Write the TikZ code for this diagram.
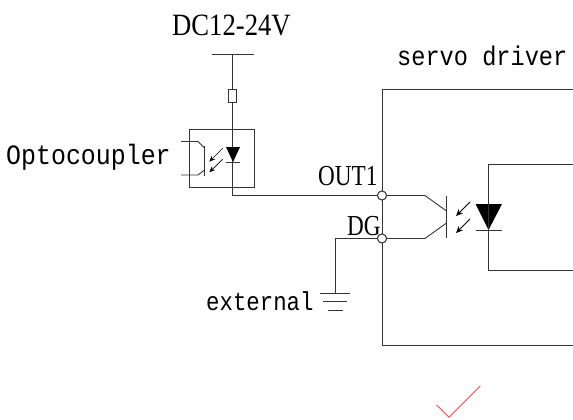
\documentclass[tikz,border=0pt]{standalone}
\usepackage{fontspec}
\setmainfont{Liberation Serif}
\newfontfamily\serA[FakeStretch=0.86]{Liberation Serif}
\newfontfamily\serB[FakeStretch=0.80]{Liberation Serif}
\newfontfamily\sanA[FakeStretch=0.89]{Liberation Mono}
\newfontfamily\sanB[FakeStretch=0.875]{Liberation Mono}
\newfontfamily\sanC[FakeStretch=0.86]{Liberation Mono}
\usetikzlibrary{arrows.meta}
\definecolor{ink}{HTML}{333333}
\definecolor{tickred}{HTML}{FF4444}
\tikzset{
  wire/.style={draw=ink,line width=1pt},
  thinwire/.style={draw=ink,line width=0.9pt},
  ray/.style={draw=black,line width=0.8pt,-{Stealth[length=7pt,width=6pt]}},
  raysmall/.style={draw=black,line width=0.7pt,-{Stealth[length=6pt,width=5pt]}},
  term/.style={circle,draw=ink,fill=white,line width=0.9pt,minimum size=9pt,inner sep=0pt},
  serifl/.style={anchor=base west,inner sep=0pt,text=black},
  sansl/.style={anchor=base west,inner sep=0pt,text=black},
  fuse/.style={rectangle,draw=ink,fill=white,line width=0.9pt,minimum width=8.5pt,minimum height=13pt,inner sep=0pt},
}
\begin{document}
\begin{tikzpicture}[x=1pt,y=-1pt]
\useasboundingbox (0,0) rectangle (573,420);
% free ends
\coordinate (supL) at (212,55);
\coordinate (supR) at (254,55);
\coordinate (supM) at (232.5,55);
\coordinate (corner) at (232.5,195.5);
\coordinate (boxTR) at (573,89);
\coordinate (boxTL) at (382,89);
\coordinate (boxBL) at (382,345);
\coordinate (boxBR) at (573,345);
\coordinate (gndTop) at (335,238.5);
\coordinate (gnd1) at (335,293.5);
\node[term] (out1) at (382,195.5) {};
\node[term] (dg) at (382,238.5) {};
\node[fuse] (fuse1) at (232.5,95.5) {};
% driver box
\draw[wire] (boxTR) -- (boxTL) -- (boxBL) -- (boxBR);
\node[term] at (out1) {};
\node[term] at (dg) {};
% external wiring
\draw[wire] (supL) -- (supR);
\draw[wire] (supM) -- (fuse1) (fuse1) -- (corner) -- (out1);
\node[fuse] at (fuse1) {};
\draw[wire] (dg) -- (gndTop) -- (gnd1);
\draw[wire] (320,293.5) -- (350,293.5);
\draw[wire] (323,301.7) -- (347,301.7);
\draw[wire] (328,310.7) -- (343,310.7);
% small optocoupler
\draw[wire] (189.5,129) rectangle (254,187);
\fill[black] (226,147) -- (240,147) -- (233,162) -- cycle;
\draw[thinwire] (225.5,162) -- (240,162);
\draw[thinwire] (204.5,146) -- (204.5,176);
\draw[thinwire] (181,141.5) -- (198,141.5) -- (204.5,148);
\draw[thinwire] (181,175) -- (198,175) -- (204.5,170);
\draw[raysmall] (222.7,148.3) -- (209.3,161.7);
\draw[raysmall] (222.7,159.3) -- (209.3,172.3);
% main optocoupler
\draw[thinwire] (out1) -- (425,195.5) -- (446.5,211);
\draw[thinwire] (dg) -- (425,238.5) -- (446.5,223);
\draw[thinwire] (446.5,196) -- (446.5,238);
\draw[ray] (470,202) -- (456,216);
\draw[ray] (470,219) -- (456,233);
\fill[black] (475.5,204) -- (502,204) -- (488.5,230) -- cycle;
\draw[thinwire] (476,230) -- (502,230);
\draw[wire] (573,164) -- (488.5,164) -- (488.5,270) -- (573,270);
% tick
\draw[draw=tickred,line width=0.9pt] (436.7,405) -- (449,417.3) -- (480.3,386);
% labels
\node[serifl,font=\serA\fontsize{31}{31}\selectfont] (lblDC) at (172,36) {DC12-24V};
\node[serifl,font=\serB\fontsize{29}{29}\selectfont] (lblOut) at (318,185) {OUT1};
\node[serifl,font=\serB\fontsize{29}{29}\selectfont] (lblDG) at (347,235) {DG};
\node[sansl,font=\sanA\fontsize{28}{28}\selectfont] (lblOpto) at (6,164) {Optocoupler};
\node[sansl,font=\sanB\fontsize{27}{27}\selectfont] (lblServo) at (397,66) {servo driver};
\node[sansl,font=\sanC\fontsize{26}{26}\selectfont] (lblExt) at (206,310) {external};
\end{tikzpicture}
\end{document}
